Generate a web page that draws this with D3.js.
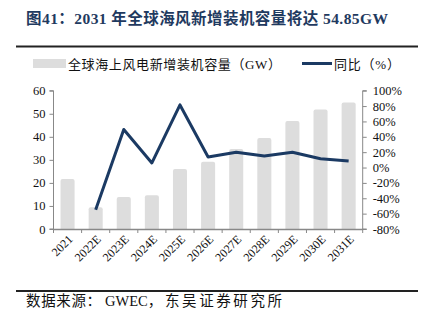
<!DOCTYPE html>
<html><head><meta charset="utf-8">
<script src="https://cdn.jsdelivr.net/npm/d3@7/dist/d3.min.js"></script>
<style>
body{margin:0;background:#fff;}
svg{display:block;}
</style></head>
<body><svg id="c" width="423" height="331"></svg>
<script>
const categories = ["2021","2022E","2023E","2024E","2025E","2026E","2027E","2028E","2029E","2030E","2031E"];
const capacity = [21.7, 9.4, 13.9, 14.6, 26.0, 29.2, 34.7, 39.5, 46.9, 51.8, 54.85];
const yoy = [null, -55, 49.5, 6, 81.5, 13.6, 20, 15, 20, 11.5, 8.5];
const leftTicks = [0,10,20,30,40,50,60];
const rightTicks = [-80,-60,-40,-20,0,20,40,60,80,100];

const svg = d3.select("#c");
const serif = "'Liberation Serif','Times New Roman',serif";
const cjk = "'Liberation Serif','Noto Sans CJK SC',serif";
const navy = "#1b3a63";

// title
svg.append("text").attr("x",26).attr("y",24)
  .attr("font-family",cjk).attr("font-weight","bold").attr("font-size",15.5)
  .attr("textLength",362).attr("lengthAdjust","spacing")
  .attr("fill","#1f3a60").text("图41：2031 年全球海风新增装机容量将达 54.85GW");
svg.append("line").attr("x1",16).attr("x2",418).attr("y1",46.5).attr("y2",46.5)
  .attr("stroke","#222").attr("stroke-width",2);

// legend
svg.append("rect").attr("x",33).attr("y",59).attr("width",33).attr("height",9).attr("fill","#dddddd");
svg.append("text").attr("x",68).attr("y",68.5).attr("font-family",cjk).attr("font-size",13)
  .attr("textLength",213).attr("lengthAdjust","spacing").attr("fill","#111")
  .text("全球海上风电新增装机容量（GW）");
svg.append("line").attr("x1",302).attr("x2",332).attr("y1",63.5).attr("y2",63.5).attr("stroke",navy).attr("stroke-width",3);
svg.append("text").attr("x",334).attr("y",68.5).attr("font-family",cjk).attr("font-size",13)
  .attr("textLength",66).attr("lengthAdjust","spacing").attr("fill","#111")
  .text("同比（%）");

const L=53.5, R=362.7, T=90.7, B=229;
const x = d3.scaleBand().domain(categories).range([L,R]).paddingInner(0.5).paddingOuter(0.25);
const yL = d3.scaleLinear().domain([0,60]).range([B,T]);
const yR = d3.scaleLinear().domain([-80,100]).range([B,T]);

// bars
svg.append("g").selectAll("path").data(categories).join("path")
  .attr("d",(d,i)=>{
    const x0=x(d), w=x.bandwidth(), y0=yL(capacity[i]), r=2;
    return `M${x0},${B}V${y0+r}Q${x0},${y0} ${x0+r},${y0}H${x0+w-r}Q${x0+w},${y0} ${x0+w},${y0+r}V${B}Z`;
  }).attr("fill","#dddddd");

// axes
const axCol="#888";
const gL = svg.append("g").attr("transform",`translate(${L},0)`)
  .call(d3.axisLeft(yL).tickValues(leftTicks).tickSize(4).tickPadding(4));
const gR = svg.append("g").attr("transform",`translate(${R},0)`)
  .call(d3.axisRight(yR).tickValues(rightTicks).tickSize(4).tickPadding(6).tickFormat(d=>d+"%"));
const gX = svg.append("g").attr("transform",`translate(0,${B})`)
  .call(d3.axisBottom(x).tickSize(0).tickFormat(""));
const bounds = d3.range(categories.length+1).map(i=>L+i*(R-L)/categories.length);
gX.selectAll("line.bt").data(bounds).join("line").attr("class","bt")
  .attr("x1",d=>d).attr("x2",d=>d).attr("y1",0).attr("y2",4).attr("stroke",axCol);
gX.select(".domain").attr("stroke",axCol).attr("stroke-width",1.5);
[gL,gR].forEach(g=>{
  g.select(".domain").attr("stroke",axCol).attr("d", g===gL?`M-4,${T}H0V${B}H-4`:`M4,${T}H0V${B}H4`);
  g.selectAll(".tick line").attr("stroke",axCol);
  g.selectAll(".tick text").attr("font-family",serif).attr("font-size",12.5).attr("fill","#111");
});

// x labels rotated
svg.append("g").selectAll("text").data(categories).join("text")
  .attr("transform",d=>`translate(${x(d)+x.bandwidth()/2+3},${B+8}) rotate(-45)`)
  .attr("text-anchor","end").attr("dy","0.35em")
  .attr("font-family",serif).attr("font-size",12).attr("fill","#111").text(d=>d);

// line
const pts = categories.map((c,i)=>[c,yoy[i]]).filter(d=>d[1]!==null);
svg.append("path").datum(pts)
  .attr("d",d3.line().x(d=>x(d[0])+x.bandwidth()/2).y(d=>yR(d[1])))
  .attr("fill","none").attr("stroke",navy).attr("stroke-width",3).attr("stroke-linejoin","round");

// bottom
svg.append("line").attr("x1",16).attr("x2",418).attr("y1",291).attr("y2",291)
  .attr("stroke","#222").attr("stroke-width",2);
const src = [["数据来源：",26,75],["GWEC，",105,null],["东吴证券研究所",165,117]];
src.forEach(([t,sx,len])=>{
  const e = svg.append("text").attr("x",sx).attr("y",306).attr("font-family",cjk).attr("font-size",14.5).attr("fill","#111").text(t);
  if(len) e.attr("textLength",len).attr("lengthAdjust","spacing");
});
</script></body></html>
